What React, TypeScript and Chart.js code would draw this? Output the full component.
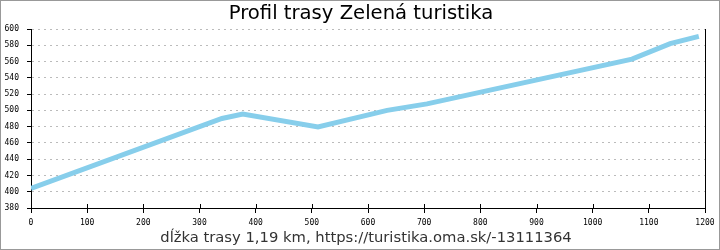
import React, { useEffect, useRef } from "react";
import { Chart, registerables } from "chart.js";

Chart.register(...registerables);

const distances = [0, 340, 377, 511, 634, 705, 1070, 1138, 1189];
const elevations = [404, 490, 495.5, 479.5, 500, 508, 563, 582, 591];
const titleText = "Profil trasy Zelená turistika";
const xLabelText = "dĺžka trasy 1,19 km, https://turistika.oma.sk/-13111364";

const decorations = {
  id: "decorations",
  beforeDraw(chart: any) {
    const ctx = chart.ctx;
    ctx.save();
    ctx.fillStyle = "#ffffff";
    ctx.fillRect(0, 0, chart.width, chart.height);
    ctx.restore();
  },
  afterDraw(chart: any) {
    const ctx = chart.ctx;
    const area = chart.chartArea;
    const xs = chart.scales.x;
    ctx.save();
    ctx.strokeStyle = "#000";
    ctx.lineWidth = 1;
    ctx.beginPath();
    ctx.moveTo(Math.round(area.right) + 0.5, area.top);
    ctx.lineTo(Math.round(area.right) + 0.5, area.bottom);
    ctx.stroke();
    xs.ticks.forEach((t: any) => {
      const px = Math.round(xs.getPixelForValue(t.value)) + 0.5;
      ctx.beginPath();
      ctx.moveTo(px, area.bottom - 4);
      ctx.lineTo(px, area.bottom);
      ctx.stroke();
    });
    ctx.fillStyle = "#000";
    ctx.textAlign = "center";
    ctx.textBaseline = "alphabetic";
    ctx.font = "19.6px 'DejaVu Sans'";
    ctx.fillText(titleText, 361, 18.5);
    ctx.fillStyle = "#333";
    ctx.font = "14.75px 'DejaVu Sans'";
    ctx.fillText(xLabelText, 366, 241.5);
    ctx.strokeStyle = "#999";
    ctx.strokeRect(0.5, 0.5, chart.width - 1, chart.height - 1);
    ctx.restore();
  },
};

export default function App() {
  const ref = useRef<HTMLCanvasElement>(null);
  useEffect(() => {
    document.body.style.margin = "0";
    const chart = new Chart(ref.current!, {
      type: "line",
      data: {
        datasets: [
          {
            data: distances.map((d, i) => ({ x: d, y: elevations[i] })),
            borderColor: "#87ceeb",
            borderWidth: 5,
            pointRadius: 0,
            tension: 0,
            fill: false,
          },
        ],
      },
      options: {
        animation: false,
        responsive: false,
        devicePixelRatio: 1,
        layout: { padding: { left: 0, right: 15, top: 29, bottom: 0 } },
        plugins: { legend: { display: false }, title: { display: false }, tooltip: { enabled: false } },
        scales: {
          x: {
            type: "linear",
            min: 0,
            max: 1200,
            afterFit: (s: any) => { s.height = 42; },
            ticks: {
              stepSize: 100,
              color: "#000",
              padding: 5,
              maxRotation: 0,
              callback: (v: any) => String(v),
              font: { family: "'DejaVu Sans Mono'", size: 8 },
            },
            grid: {
              drawOnChartArea: false,
              tickLength: 5,
              tickColor: "#000",
            },
            border: { color: "#000", width: 1 },
          },
          y: {
            min: 380,
            max: 600,
            afterFit: (s: any) => { s.width = 31; },
            ticks: {
              stepSize: 20,
              color: "#000",
              padding: 8,
              callback: (v: any) => String(v),
              font: { family: "'DejaVu Sans Mono'", size: 8 },
            },
            grid: {
              color: "#bbbbbb",
              tickLength: 4,
              tickColor: "#000",
              tickBorderDash: [],
            },
            border: { color: "#000", width: 1, dash: [2, 4] },
          },
        },
      },
      plugins: [decorations],
    });
    return () => chart.destroy();
  }, []);
  return (
    <div style={{ width: 720, height: 250 }}>
      <canvas ref={ref} width={720} height={250} style={{ display: "block" }} />
    </div>
  );
}
